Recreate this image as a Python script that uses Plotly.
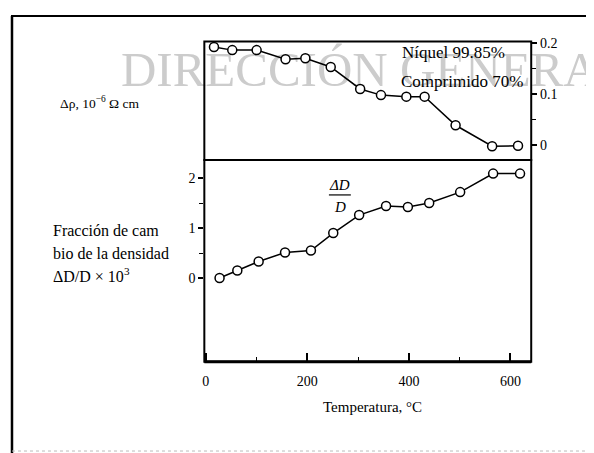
import plotly.graph_objects as go

# ---- data ----
temp_rho = [16, 52, 100, 157, 196, 246, 304, 345, 395, 431, 492, 564, 615]
delta_rho = [0.192, 0.186, 0.186, 0.168, 0.170, 0.153, 0.110, 0.098, 0.095, 0.095, 0.039, -0.002, -0.001]

temp_dens = [27, 62, 104, 156, 207, 251, 302, 355, 398, 440, 501, 566, 619]
dens_change = [0.0, 0.15, 0.33, 0.51, 0.55, 0.90, 1.26, 1.44, 1.42, 1.50, 1.72, 2.09, 2.09]

x_ticks = [0, 200, 400, 600]
x_minor = [100, 300, 500]
rho_ticks = [0, 0.1, 0.2]
rho_ticktext = ["0", "0.1", "0.2"]
rho_minor = [0.05, 0.15]
dens_ticks = [0, 1, 2]
dens_minor = [0.5, 1.5]
dens_right_ticks = [0, 0.5, 1, 1.5, 2]

# page body has an 8px margin: figure is placed at (8, 8)
OFF = 8
W, H = 594 - OFF, 453 - OFF
FONT = "Liberation Serif"

X_RANGE = [-3, 641]
RHO_RANGE = [-0.029, 0.2031]
DENS_RANGE = [-1.677, 2.362]
PLOT_L, PLOT_R = 203, 531
TOP, MID, BOT = 36.7, 156.7, 360.7


def px(x):
    return (x - OFF) / W


def py(y):
    return 1 - (y - OFF) / H


def x_at(pxl):
    return X_RANGE[0] + (pxl - PLOT_L) / (PLOT_R - PLOT_L) * (X_RANGE[1] - X_RANGE[0])


def rho_at(pyl):
    return RHO_RANGE[1] - (pyl - TOP) / (MID - TOP) * (RHO_RANGE[1] - RHO_RANGE[0])


fig = go.Figure()

# watermark (drawn first so it lies beneath the data); anchored at its centre,
# which lies inside the plot area
fig.add_trace(go.Scatter(x=[x_at(374)], y=[rho_at(69)], mode="text", yaxis="y2",
                         text=["DIRECCIÓN GENERAL"], textposition="middle center",
                         textfont=dict(family=FONT, size=49, color="rgb(204,204,204)"),
                         cliponaxis=False, hoverinfo="skip", showlegend=False))

marker = dict(symbol="circle", size=9, color="white", line=dict(color="black", width=1.5))

fig.add_trace(go.Scatter(x=temp_rho, y=delta_rho, mode="lines+markers", yaxis="y2",
                         line=dict(color="black", width=1.5), marker=marker,
                         cliponaxis=False, showlegend=False))
fig.add_trace(go.Scatter(x=temp_dens, y=dens_change, mode="lines+markers", yaxis="y",
                         line=dict(color="black", width=1.5), marker=marker,
                         cliponaxis=False, showlegend=False))

tickfont = dict(family=FONT, size=14, color="black")

fig.update_layout(
    width=W, height=H,
    margin=dict(l=0, r=0, t=0, b=0),
    paper_bgcolor="white", plot_bgcolor="rgba(0,0,0,0)",
    xaxis=dict(domain=[px(PLOT_L), px(PLOT_R)], range=X_RANGE, anchor="y",
               tickmode="array", tickvals=x_ticks, ticks="inside", ticklen=9, tickwidth=1.5,
               tickcolor="black",
               minor=dict(tickmode="array", tickvals=x_minor, ticks="inside", ticklen=5,
                          tickwidth=1.2, tickcolor="black"),
               showgrid=False, zeroline=False, showline=False, tickfont=tickfont,
               ticklabelstandoff=9),
    yaxis=dict(domain=[py(BOT), py(MID)], range=DENS_RANGE, anchor="x",
               tickmode="array", tickvals=dens_ticks, ticks="outside", ticklen=5, tickwidth=1.5,
               tickcolor="black",
               minor=dict(tickmode="array", tickvals=dens_minor, ticks="outside", ticklen=4,
                          tickwidth=1.2, tickcolor="black"),
               showgrid=False, zeroline=False, showline=False, tickfont=tickfont),
    yaxis3=dict(overlaying="y", side="right", range=DENS_RANGE, anchor="x",
                tickmode="array", tickvals=dens_right_ticks, ticks="inside", ticklen=6,
                tickwidth=1.5, tickcolor="black", showticklabels=False,
                showgrid=False, zeroline=False, showline=False),
    yaxis2=dict(domain=[py(MID), py(TOP)], range=RHO_RANGE, anchor="x", side="right",
                tickmode="array", tickvals=rho_ticks, ticktext=rho_ticktext, ticks="outside",
                ticklen=5, tickwidth=1.5, tickcolor="black",
                minor=dict(tickmode="array", tickvals=rho_minor, ticks="outside", ticklen=4,
                           tickwidth=1.2, tickcolor="black"),
                showgrid=False, zeroline=False, showline=False, tickfont=tickfont),
)

shapes = [
    # panel frames
    dict(type="rect", xref="x domain", yref="y2 domain", x0=0, x1=1, y0=0, y1=1,
         line=dict(color="black", width=2)),
    dict(type="rect", xref="x domain", yref="y domain", x0=0, x1=1, y0=0, y1=1,
         line=dict(color="black", width=2)),
    dict(type="line", xref="x domain", yref="y domain", x0=0, x1=1, y0=0, y1=0,
         line=dict(color="black", width=3)),
    # outer figure frame (scan border)
    dict(type="line", xref="paper", yref="paper", x0=px(9), x1=1.0, y0=py(11), y1=py(11),
         line=dict(color="black", width=2)),
    dict(type="line", xref="paper", yref="paper", x0=px(10), x1=px(10), y0=py(11), y1=0,
         line=dict(color="black", width=2.5)),
    dict(type="line", xref="paper", yref="paper", x0=px(10), x1=1.0, y0=py(451), y1=py(451),
         line=dict(color="#bbbbbb", width=1, dash="dot")),
    # fraction bar of ΔD/D
    dict(type="line", xref="paper", yref="paper", x0=px(328), x1=px(350), y0=py(192), y1=py(192),
         line=dict(color="black", width=1.2)),
]
fig.update_layout(shapes=shapes)


def ann(text, x, y, size=15, xanchor="left", yanchor="middle", color="black", **kw):
    return dict(text=text, x=px(x), y=py(y), xref="paper", yref="paper", showarrow=False,
                xanchor=xanchor, yanchor=yanchor,
                font=dict(family=FONT, size=size, color=color), **kw)


annotations = [
    ann("Δρ, 10<sup>−6</sup> Ω cm", 56, 99, size=13.5),
    ann("Fracción de cam", 49, 228, size=16),
    ann("bio de la densidad", 49, 251, size=16),
    ann("ΔD/D × 10<sup>3</sup>", 49, 273, size=16),
    ann("Níquel 99.85%", 399, 48, size=17),
    ann("Comprimido 70%", 398, 77, size=17),
    ann("<i>ΔD</i>", 339, 182, size=15, xanchor="center"),
    ann("<i>D</i>", 339, 204, size=15, xanchor="center"),
    ann("Temperatura, °C", 372, 406, size=15, xanchor="center"),
]
fig.update_layout(annotations=annotations)

fig.write_html("out.html")
